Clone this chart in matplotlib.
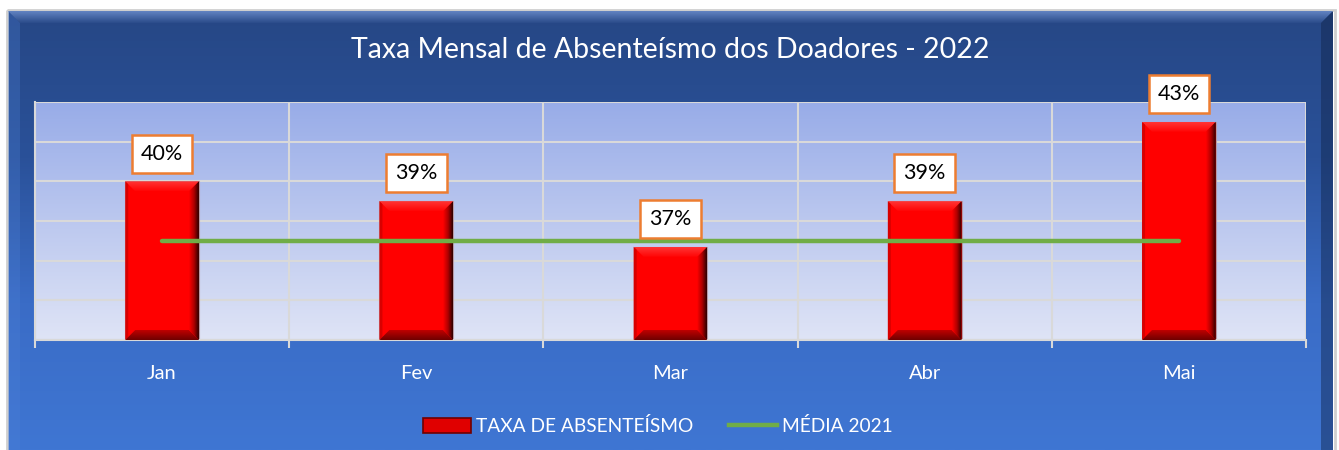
import numpy as np
import matplotlib.pyplot as plt
from matplotlib.patches import Polygon, Rectangle, Patch
from matplotlib.lines import Line2D
from matplotlib.colors import LinearSegmentedColormap

plt.rcParams['font.family'] = ['Lato', 'DejaVu Sans']

# dados
meses = ['Jan', 'Fev', 'Mar', 'Abr', 'Mai']
taxa = [0.400, 0.390, 0.367, 0.390, 0.430]
media_2021 = [0.370, 0.370, 0.370, 0.370, 0.370]
rotulos = ['40%', '39%', '37%', '39%', '43%']
titulo = 'Taxa Mensal de Absenteísmo dos Doadores - 2022'

W, H = 1339, 450
fig = plt.figure(figsize=(W / 100, H / 100), dpi=100)
fig.patch.set_facecolor('white')

# fundo (moldura azul com gradiente) em coordenadas de pixel
bg = fig.add_axes([0, 0, 1, 1])
bg.set_xlim(0, W)
bg.set_ylim(H, 0)
bg.axis('off')
cm_bg = LinearSegmentedColormap.from_list('bg', ['#264785', '#2a5199', '#3a6cc6', '#3f76d3'])
grad = np.linspace(0, 1, 256).reshape(-1, 1)
bg.imshow(grad, cmap=cm_bg, extent=[8, 1333, H, 11], aspect='auto', zorder=0)
bg.add_patch(Rectangle((6.5, 9.5), 1328, 445, fill=False, ec='#cfcfcf', lw=2, zorder=1))
# bisel da moldura
topo = Polygon([(8, 11), (1333, 11), (1321, 23), (20, 23)], closed=True, fc='none', lw=0, zorder=1)
bg.add_patch(topo)
cm_topo = LinearSegmentedColormap.from_list('tp', ['#6384c2', '#2a4b8a'])
im = bg.imshow(grad, cmap=cm_topo, extent=[8, 1333, 23, 11], aspect='auto', zorder=1)
im.set_clip_path(topo)
bg.add_patch(Polygon([(8, 11), (20, 23), (20, H), (8, H)], closed=True,
                     fc='#4c7fd6', alpha=0.3, lw=0, zorder=1))
bg.add_patch(Polygon([(1333, 11), (1321, 23), (1321, H), (1333, H)], closed=True,
                     fc='#10244a', alpha=0.45, lw=0, zorder=1))

bg.text(670, 50, titulo, color='white', fontsize=20.5, ha='center', va='center')

# área do gráfico
ax = fig.add_axes([35 / W, 1 - 340 / H, (1306 - 35) / W, (340 - 102) / H])
ax.set_xlim(-0.5, 4.5)
ax.set_ylim(0.32, 0.44)
cm_pa = LinearSegmentedColormap.from_list('pa', ['#dfe4f6', '#98ace8'])
ax.imshow(grad, cmap=cm_pa, extent=[0, 1, 0, 1], transform=ax.transAxes,
          aspect='auto', origin='lower', zorder=0)
ax.set_facecolor('none')

for s in ['top', 'right']:
    ax.spines[s].set_visible(False)
for s in ['left', 'bottom']:
    ax.spines[s].set_color('#d9d9d9')
    ax.spines[s].set_linewidth(1.5)

x = np.arange(len(meses))
ax.set_xticks(np.arange(-0.5, 5, 1))
ax.set_xticklabels([])
ax.set_xticks(x, minor=True)
ax.set_xticklabels(meses, minor=True, color='white', fontsize=14.5)
ax.tick_params(axis='x', which='major', length=6, color='#d9d9d9', width=1.5, direction='out')
ax.tick_params(axis='x', which='minor', length=0, pad=18)
ax.set_yticks(np.arange(0.32, 0.4401, 0.02))
ax.set_yticklabels([])
ax.tick_params(axis='y', length=0)
ax.grid(True, which='major', color='#d9d9d9', lw=1.5, zorder=1)
ax.set_axisbelow(True)

# barras com efeito de bisel
bw = 0.29
bars = ax.bar(x, taxa, width=bw, bottom=0, color='#ff0000', ec='#b89aa6', lw=0.8, zorder=2)
ax.set_ylim(0.32, 0.44)

ax_w_px = (1306 - 35)
ax_h_px = (340 - 102)
dx = 10 * 5.0 / ax_w_px
dy = 10 * 0.12 / ax_h_px
cm_r = LinearSegmentedColormap.from_list('r', ['#ff0000', '#b00000', '#2a0000'])
cm_b = LinearSegmentedColormap.from_list('b', ['#6e0000', '#c00000'])
cm_t = LinearSegmentedColormap.from_list('t', ['#ff0505', '#ff3535'])
y0 = 0.32
for b in bars:
    x0 = b.get_x()
    x1 = x0 + b.get_width()
    y1 = b.get_height()
    top = Polygon([(x0, y1), (x1, y1), (x1 - dx, y1 - dy), (x0 + dx, y1 - dy)],
                  closed=True, fc='none', lw=0, zorder=3)
    ax.add_patch(top)
    im = ax.imshow(grad, cmap=cm_t, extent=[x0, x1, y1 - dy, y1], origin='lower',
                   aspect='auto', zorder=3)
    im.set_clip_path(top)
    left = Polygon([(x0, y1), (x0 + dx * 0.3, y1 - dy * 0.3), (x0 + dx * 0.3, y0 + dy * 0.3), (x0, y0)],
                   closed=True, fc='#d80000', lw=0, zorder=3)
    ax.add_patch(left)
    bot = Polygon([(x0, y0), (x1, y0), (x1 - dx, y0 + dy), (x0 + dx, y0 + dy)],
                  closed=True, fc='none', lw=0, zorder=3)
    ax.add_patch(bot)
    im = ax.imshow(grad, cmap=cm_b, extent=[x0, x1, y0, y0 + dy], origin='lower',
                   aspect='auto', zorder=3)
    im.set_clip_path(bot)
    right = Polygon([(x1, y1), (x1, y0), (x1 - dx, y0 + dy), (x1 - dx, y1 - dy)],
                    closed=True, fc='none', lw=0, zorder=3.1)
    ax.add_patch(right)
    im = ax.imshow(grad.T, cmap=cm_r, extent=[x1 - dx, x1, y0, y1],
                   aspect='auto', zorder=3.1)
    im.set_clip_path(right)

ax.set_xlim(-0.5, 4.5)
ax.set_ylim(0.32, 0.44)

ax.plot(x, media_2021, color='#70ad47', lw=3.2, solid_capstyle='round', zorder=4)

for xi, v, r in zip(x, taxa, rotulos):
    ax.annotate(r, (xi, v), xytext=(0, 20), textcoords='offset points',
                ha='center', va='center', fontsize=15.5, color='black', zorder=5,
                bbox=dict(boxstyle='square,pad=0.42', fc='white', ec='#ed7d31', lw=1.8),
                annotation_clip=False)

handles = [Patch(fc='#e00000', ec='#700000', lw=1.2),
           Line2D([0], [0], color='#70ad47', lw=3.2)]
leg = fig.legend(handles, ['TAXA DE ABSENTEÍSMO', 'MÉDIA 2021'], loc='center',
                 bbox_to_anchor=(658 / W, 1 - 426 / H), ncol=2, frameon=False,
                 fontsize=13.8, labelcolor='white', handlelength=2.5, handleheight=0.8,
                 handletextpad=0.25, columnspacing=1.9)

fig.savefig('out.png', dpi=100, facecolor=fig.get_facecolor())
